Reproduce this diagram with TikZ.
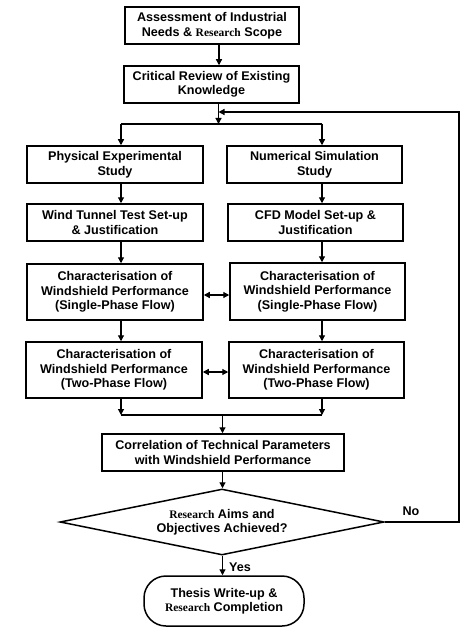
\documentclass[tikz,border=0pt]{standalone}
\usepackage{fontspec}
\setmainfont{Liberation Sans}
\newfontfamily\rsfont{Liberation Serif}
\usetikzlibrary{shapes.geometric,arrows.meta}
\newcommand{\Rs}{{\rsfont\fontsize{11.5}{14.5}\selectfont\bfseries Research}}
\tikzset{
  box/.style={draw, line width=1.5pt, align=center, inner sep=0pt,
    font=\fontsize{12.6}{14.5}\selectfont\bfseries},
  arr/.style={line width=1.2pt, -{Triangle[length=6pt,width=6pt]}},
  darr/.style={line width=1.2pt, {Triangle[length=6pt,width=6pt]}-{Triangle[length=6pt,width=6pt]}},
  ln/.style={line width=1.2pt},
  lbl/.style={font=\fontsize{12.6}{14.5}\selectfont\bfseries, inner sep=0pt}
}
\begin{document}
\begin{tikzpicture}[x=1pt,y=-1pt]
\useasboundingbox (0,0) rectangle (474,631);
\fill[white] (0,0) rectangle (474,631);

\node[box, minimum width=174pt, minimum height=37pt] (b1) at (212,25.5) {Assessment of Industrial\\Needs \& \Rs{} Scope};
\node[box, minimum width=175pt, minimum height=37pt] (b2) at (211.5,84.5) {Critical Review of Existing\\Knowledge};
\node[box, minimum width=176pt, minimum height=37pt] (b3) at (115,164.5) {Physical Experimental\\Study};
\node[box, minimum width=175pt, minimum height=37pt] (b4) at (314.5,164.5) {Numerical Simulation\\Study};
\node[box, minimum width=176pt, minimum height=37pt] (b5) at (115,222.5) {Wind Tunnel Test Set-up\\\& Justification};
\node[box, minimum width=175pt, minimum height=37pt] (b6) at (315.5,222.5) {CFD Model Set-up \&\\Justification};
\node[box, minimum width=176pt, minimum height=56pt] (b7) at (115,292) {Characterisation of\\Windshield Performance\\(Single-Phase Flow)};
\node[box, minimum width=175pt, minimum height=57pt] (b8) at (317.5,291.5) {Characterisation of\\Windshield Performance\\(Single-Phase Flow)};
\node[box, minimum width=176pt, minimum height=56pt] (b9) at (114,370) {Characterisation of\\Windshield Performance\\(Two-Phase Flow)};
\node[box, minimum width=175pt, minimum height=56pt] (b10) at (316.5,370) {Characterisation of\\Windshield Performance\\(Two-Phase Flow)};
\node[box, minimum width=242pt, minimum height=37pt] (b11) at (223,452.5) {Correlation of Technical Parameters\\with Windshield Performance};
\node[box, shape=diamond, aspect=4.9, minimum width=324pt, minimum height=66pt] (dia) at (222,522) {\Rs{} Aims and\\Objectives Achieved?};
\node[box, rounded corners=22pt, minimum width=160pt, minimum height=50pt] (term) at (224,601) {Thesis Write-up \&\\\Rs{} Completion};

\coordinate (xa) at (219,0);
\coordinate (xl) at (121,0);
\coordinate (xr) at (322,0);
\coordinate (xm) at (222.5,0);
\coordinate (sp) at (218.5,124);
\coordinate (mg) at (222.5,415);
\coordinate (fb) at (459,112);

\draw[arr] (b1.south -| xa) -- (b2.north -| xa);
\draw[arr] (b2.south -| sp) -- (sp);
\draw[ln] (sp -| xl) -- (sp -| xr);
\draw[arr] (sp -| xl) -- (b3.north -| xl);
\draw[arr] (sp -| xr) -- (b4.north -| xr);
\draw[arr] (b3.south -| xl) -- (b5.north -| xl);
\draw[arr] (b4.south -| xr) -- (b6.north -| xr);
\draw[arr] (b5.south -| xl) -- (b7.north -| xl);
\draw[arr] (b6.south -| xr) -- (b8.north -| xr);
\draw[arr] (b7.south -| xl) -- (b9.north -| xl);
\draw[arr] (b8.south -| xr) -- (b10.north -| xr);
\coordinate (y1) at (0,295);
\coordinate (y2) at (0,372);
\draw[darr] (b7.east |- y1) -- (b8.west |- y1);
\draw[darr] (b9.east |- y2) -- (b10.west |- y2);
\draw[arr] (b9.south -| xl) -- (mg -| xl);
\draw[arr] (b10.south -| xr) -- (mg -| xr);
\draw[ln] (mg -| xl) -- (mg -| xr);
\draw[arr] (mg) -- (b11.north -| mg);
\draw[arr] (b11.south -| xm) -- (dia.north -| xm);
\draw[arr] (dia.south -| xm) -- (term.north -| xm);
\draw[arr] (dia.east) -- (dia.east -| fb) -- (fb) -- (fb -| sp);

\node[lbl] (no) at (411,511) {No};
\node[lbl] (yes) at (240,567) {Yes};
\end{tikzpicture}
\end{document}
